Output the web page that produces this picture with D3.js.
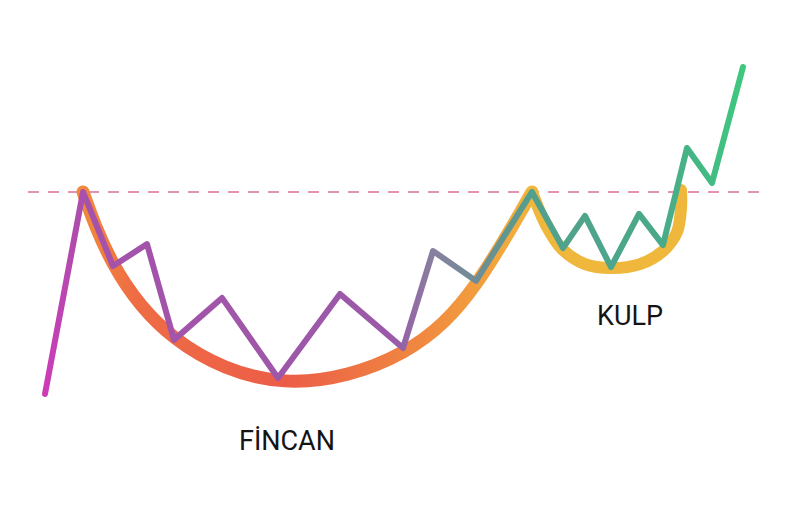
<!DOCTYPE html>
<html>
<head>
<meta charset="utf-8">
<script src="https://cdn.jsdelivr.net/npm/d3@7"></script>
<style>
  html, body { margin: 0; padding: 0; background: #fff; }
  #chart { width: 788px; height: 515px; }
  text { font-family: Roboto, "Noto Sans", sans-serif; }
</style>
</head>
<body>
<div id="chart"></div>
<script>
// price path (time step, price)
const priceX = [0, 3.8, 6.8, 10.2, 12.9, 17.7, 23.3, 29.5, 35.8, 38.8, 43.1, 48.7, 51.8, 54.0, 56.6, 59.4, 61.8, 64.2, 66.7, 69.8];
const priceY = [0, 61.6, 39.0, 45.7, 16.5, 29.3, 4.9, 30.5, 14.0, 43.6, 34.5, 61.6, 44.5, 54.3, 38.7, 54.9, 45.4, 75.0, 64.3, 99.7];

// cup outline
const cupX = [3.8, 6.8, 13.0, 24.0, 35.8, 43.1, 48.7];
const cupY = [61.6, 39.9, 17.1, 4.0, 12.8, 33.6, 61.6];

// handle outline
const handleX = [48.7, 50.1, 51.7, 54.0, 56.6, 59.5, 61.8, 63.2, 63.6, 63.6];
const handleY = [61.6, 51.5, 44.2, 39.6, 38.4, 39.6, 43.6, 49.4, 56.7, 62.2];

const resistance = 61.6;
const labels = [
  { text: 'FİNCAN', x: 24.2, y: -17 },
  { text: 'KULP', x: 58.5, y: 21 }
];

const width = 788, height = 515;

const x = d3.scaleLinear().domain([0, 70]).range([45, 745]);
const y = d3.scaleLinear().domain([0, 100]).range([394, 66]);

const svg = d3.select('#chart').append('svg')
  .attr('width', width)
  .attr('height', height);

svg.append('rect').attr('width', width).attr('height', height).attr('fill', '#fff');

const defs = svg.append('defs');

function hGradient(id, x1, x2, stops) {
  const g = defs.append('linearGradient')
    .attr('id', id)
    .attr('gradientUnits', 'userSpaceOnUse')
    .attr('x1', x1).attr('x2', x2)
    .attr('y1', 0).attr('y2', 0);
  g.selectAll('stop').data(stops).enter().append('stop')
    .attr('offset', d => d[0])
    .attr('stop-color', d => d[1]);
}

hGradient('priceGrad', x(0), x(69.8), [
  [0, '#cc3cb6'], [0.06, '#a552aa'], [0.5, '#9a5aa8'], [0.56, '#86829f'],
  [0.62, '#6e8c95'], [0.7, '#52a08c'], [0.88, '#4aa98a'], [1, '#3ec87e']
]);
hGradient('cupGrad', x(3.8), x(48.7), [
  [0, '#f18a3c'], [0.12, '#ee6c44'], [0.45, '#ec5d48'], [0.75, '#f08840'], [1, '#f3b23c']
]);

// resistance line
svg.append('line')
  .attr('x1', 28).attr('x2', 762)
  .attr('y1', y(resistance)).attr('y2', y(resistance))
  .attr('stroke', '#e592b2')
  .attr('stroke-width', 2)
  .attr('stroke-dasharray', '11,9');

const cupLine = d3.line()
  .x(d => x(d[0]))
  .y(d => y(d[1]))
  .curve(d3.curveNatural);

const handleLine = d3.line()
  .x(d => x(d[0]))
  .y(d => y(d[1]))
  .curve(d3.curveCatmullRom.alpha(0.5));

svg.append('path')
  .datum(d3.zip(cupX, cupY))
  .attr('d', cupLine)
  .attr('fill', 'none')
  .attr('stroke', 'url(#cupGrad)')
  .attr('stroke-width', 13)
  .attr('stroke-linecap', 'round');

svg.append('path')
  .datum(d3.zip(handleX, handleY))
  .attr('d', handleLine)
  .attr('fill', 'none')
  .attr('stroke', '#efb83c')
  .attr('stroke-width', 12)
  .attr('stroke-linecap', 'round');

const zig = d3.line()
  .x(d => x(d[0]))
  .y(d => y(d[1]));

svg.append('path')
  .datum(d3.zip(priceX, priceY))
  .attr('d', zig)
  .attr('fill', 'none')
  .attr('stroke', 'url(#priceGrad)')
  .attr('stroke-width', 6)
  .attr('stroke-linejoin', 'round')
  .attr('stroke-linecap', 'round');

svg.selectAll('text.label')
  .data(labels)
  .enter().append('text')
  .attr('class', 'label')
  .attr('x', d => x(d.x))
  .attr('y', d => y(d.y))
  .attr('text-anchor', 'middle')
  .attr('font-size', 27)
  .attr('fill', '#141414')
  .text(d => d.text);
</script>
</body>
</html>
